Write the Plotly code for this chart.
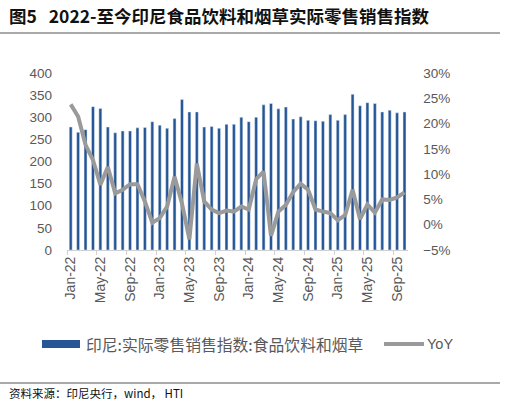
"""
印尼食品饮料和烟草实际零售销售指数
"""

import pandas as pd
import plotly.graph_objects as go
from plotly.subplots import make_subplots

# 数据：2022-01 至 2025-10
months = pd.date_range('2022-01-01', periods=46, freq='MS').strftime('%b-%y').tolist()

retail_index = [278, 266, 272, 324, 320, 278, 265, 269, 269, 276, 277, 290,
                282, 275, 297, 340, 312, 312, 278, 279, 275, 284, 284, 300,
                290, 300, 328, 331, 319, 323, 296, 301, 293, 292, 291, 306,
                293, 306, 352, 326, 333, 331, 312, 316, 310, 312]

yoy = [23.8, 21.4, 15.8, 12.8, 7.9, 11.4, 6.2, 6.9, 8.0, 8.0, 4.6, 0.4,
       1.3, 3.6, 9.5, 4.2, -2.9, 12.1, 4.6, 3.0, 2.3, 2.8, 2.6, 3.6,
       3.0, 9.0, 10.5, -2.2, 2.6, 3.9, 6.5, 8.1, 6.9, 3.0, 2.6, 2.3,
       0.9, 1.9, 6.9, 1.1, 4.0, 2.4, 5.0, 4.9, 5.4, 6.4]
yoy = [v / 100 for v in yoy]

BAR_NAME = '印尼:实际零售销售指数:食品饮料和烟草'
LINE_NAME = 'YoY'

W, H = 506, 404
L, R, T, B = 67, 76, 73, 154
PW, PH = W - L - R, H - T - B

BLUE = '#255594'
GREY = '#9a9a9a'
TXT = '#595959'
CJK = 'Noto Sans CJK SC'
NUM = 'Liberation Sans'


def px(x):
    return (x - L) / PW


def py(y):
    return (H - B - y) / PH


fig = make_subplots(specs=[[{'secondary_y': True}]])

fig.add_trace(go.Bar(x=months, y=retail_index, name=BAR_NAME,
                     marker_color=BLUE, showlegend=False),
              secondary_y=False)

fig.add_trace(go.Scatter(x=months, y=yoy, name=LINE_NAME, mode='lines',
                         line=dict(color=GREY, width=4),
                         showlegend=False),
              secondary_y=True)

fig.update_xaxes(type='category', range=[-0.5, 45.5], dtick=4,
                 tickson='boundaries', ticks='outside', ticklen=4,
                 tickcolor='#d0d0d0', showline=True, linecolor='#d0d0d0',
                 tickangle=-90, showgrid=False,
                 tickfont=dict(family=NUM, size=14, color=TXT))

fig.update_yaxes(range=[0, 400], dtick=50, showgrid=False, zeroline=False,
                 ticklabelstandoff=14,
                 tickfont=dict(family=NUM, size=13.5, color=TXT),
                 secondary_y=False)
fig.update_yaxes(range=[-0.05, 0.30], dtick=0.05, tickformat='.0%',
                 showgrid=False, zeroline=False, ticklabelstandoff=14,
                 tickfont=dict(family=NUM, size=13.5, color=TXT),
                 secondary_y=True)

# 标题、分隔线、图例、资料来源
annotations = [
    dict(x=px(7), y=py(16), text='<b>图5   2022-至今印尼食品饮料和烟草实际零售销售指数</b>',
         font=dict(family=CJK, size=17.5, color='#111111')),
    dict(x=px(84), y=py(344), text=BAR_NAME,
         font=dict(family=CJK, size=15.8, color=TXT)),
    dict(x=px(425), y=py(344), text=LINE_NAME,
         font=dict(family=NUM, size=14.5, color=TXT)),
    dict(x=px(7), y=py(393), text='资料来源：印尼央行，wind， HTI',
         font=dict(family=CJK, size=11.5, color='#111111')),
]
for a in annotations:
    a.update(xref='paper', yref='paper', xanchor='left', yanchor='middle',
             showarrow=False)

shapes = [
    dict(type='line', x0=px(0), x1=px(500), y0=py(33), y1=py(33),
         line=dict(color='#555555', width=1.2)),
    dict(type='line', x0=px(0), x1=px(500), y0=py(383), y1=py(383),
         line=dict(color='#555555', width=1.2)),
    dict(type='rect', x0=px(42), x1=px(80), y0=py(348), y1=py(340),
         fillcolor=BLUE, line=dict(width=0)),
    dict(type='line', x0=px(384), x1=px(424), y0=py(344), y1=py(344),
         line=dict(color=GREY, width=4)),
]
for s in shapes:
    s.update(xref='paper', yref='paper')

fig.update_layout(
    width=W, height=H,
    margin=dict(l=L, r=R, t=T, b=B),
    plot_bgcolor='white', paper_bgcolor='white',
    bargap=0.6,
    annotations=annotations,
    shapes=shapes,
)

# 去掉页面默认边距，使图正好占满窗口
fig.write_html('out.html', config={'displayModeBar': False},
               post_script="document.body.style.margin='0px';document.body.style.overflow='hidden';")
